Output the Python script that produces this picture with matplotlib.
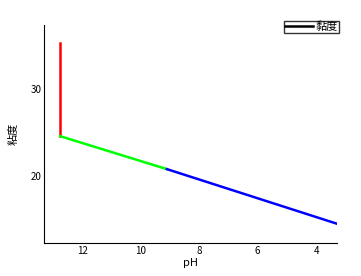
import matplotlib.pyplot as plt
from matplotlib.lines import Line2D

plt.rcParams['font.family'] = ['Noto Sans CJK SC', 'DejaVu Sans']

# segments of the viscosity curve (pH, viscosity)
ph_red = [12.75, 12.75]
visc_red = [35.3, 24.6]
ph_green = [12.75, 9.1]
visc_green = [24.6, 20.8]
ph_blue = [9.1, 3.28]
visc_blue = [20.8, 14.5]

fig = plt.figure(figsize=(3.61, 2.76), dpi=100)
ax = fig.add_axes([0.122, 0.120, 0.812, 0.789])

ax.plot(ph_red, visc_red, color='red', lw=1.8)
ax.plot(ph_green, visc_green, color='#00ff00', lw=1.8)
ax.plot(ph_blue, visc_blue, color='blue', lw=1.8)

ax.set_xlim(13.3, 3.28)
ax.set_ylim(12.3, 37.4)
ax.set_xticks([12, 10, 8, 6, 4])
ax.set_yticks([20, 30])
ax.tick_params(length=0, labelsize=7, pad=2)
ax.spines['top'].set_visible(False)
ax.spines['right'].set_visible(False)
ax.set_xlabel('pH', fontsize=8, labelpad=2)
ax.set_ylabel('粘度', fontsize=8, labelpad=8)

handle = Line2D([], [], color='black', lw=1.8)
leg = ax.legend([handle], ['黏度'], loc='upper right', bbox_to_anchor=(0.94, 0.925),
                bbox_transform=fig.transFigure, fontsize=8, frameon=True, fancybox=False,
                handlelength=2.5, borderpad=0.1, handletextpad=0.3, borderaxespad=0)
leg.get_frame().set_edgecolor('black')
leg.get_frame().set_linewidth(1)

fig.savefig('out.png', dpi=100)
